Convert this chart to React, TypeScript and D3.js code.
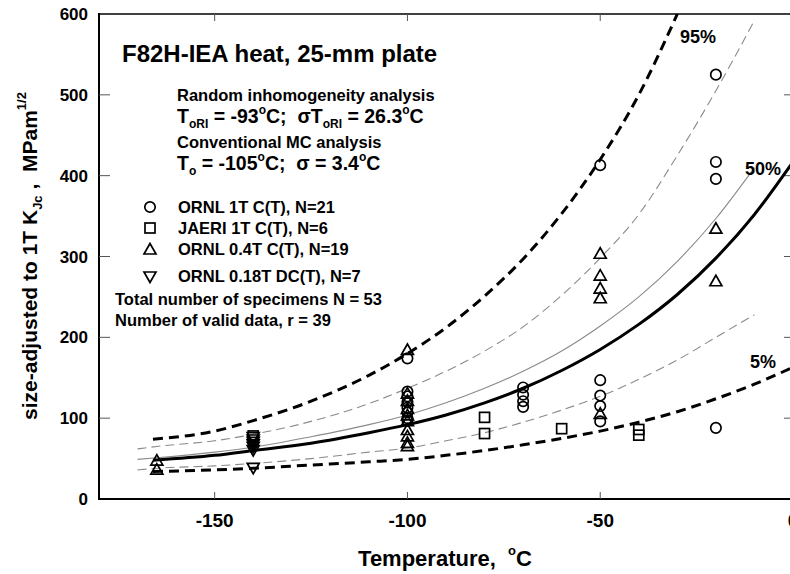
import React from "react";
import * as d3 from "d3";

// ORNL 1T C(T), N=21  (circles)
const ornl1T = [
  { t: -100, k: 174 }, { t: -100, k: 133 }, { t: -100, k: 127 }, { t: -100, k: 120 },
  { t: -100, k: 113 }, { t: -100, k: 107 }, { t: -100, k: 100 }, { t: -100, k: 97 },
  { t: -70, k: 138 }, { t: -70, k: 129 }, { t: -70, k: 121 }, { t: -70, k: 114 },
  { t: -50, k: 413 }, { t: -50, k: 147 }, { t: -50, k: 128 }, { t: -50, k: 115 }, { t: -50, k: 96 },
  { t: -20, k: 525 }, { t: -20, k: 417 }, { t: -20, k: 396 }, { t: -20, k: 88 },
];
// JAERI 1T C(T), N=6 (squares)
const jaeri1T = [
  { t: -140, k: 78 }, { t: -80, k: 101 }, { t: -80, k: 81 },
  { t: -60, k: 87 }, { t: -40, k: 86 }, { t: -40, k: 79 },
];
// ORNL 0.4T C(T), N=19 (triangles)
const ornl04T = [
  { t: -165, k: 48 }, { t: -165, k: 37 },
  { t: -100, k: 185 }, { t: -100, k: 131 }, { t: -100, k: 122 }, { t: -100, k: 112 },
  { t: -100, k: 104 }, { t: -100, k: 97 }, { t: -100, k: 86 }, { t: -100, k: 78 },
  { t: -100, k: 70 }, { t: -100, k: 66 },
  { t: -50, k: 304 }, { t: -50, k: 277 }, { t: -50, k: 261 }, { t: -50, k: 249 }, { t: -50, k: 106 },
  { t: -20, k: 335 }, { t: -20, k: 270 },
];
// ORNL 0.18T DC(T), N=7 (inverted triangles)
const ornl018T = [
  { t: -140, k: 76 }, { t: -140, k: 73 }, { t: -140, k: 70 }, { t: -140, k: 67 },
  { t: -140, k: 64 }, { t: -140, k: 60 }, { t: -140, k: 38 },
];

// random inhomogeneity curves (bold)
const riTemps = [-166, -150, -140, -125, -110, -100, -90, -80, -70, -60, -50, -40, -30, -20, -10, 0];
const ri50 = [48, 54, 60, 69, 82, 92, 104, 119, 137, 159, 185, 216, 253, 298, 352, 417];
const ri5 = [34, 36, 38, 42, 46, 49, 54, 60, 67, 75, 84, 95, 108, 124, 142, 163];
const ri95 = [74, 84, 97, 121, 153, 180, 212, 251, 297, 353, 420, 500, 600];

// conventional MC curves (thin grey)
const mcTemps = [-170, -165, -150, -140, -125, -110, -100, -90, -80, -70, -60, -50, -40, -30, -20, -10];
const mc50 = [49, 51, 58, 64, 77, 92, 104, 119, 137, 158, 183, 214, 250, 294, 347, 410];
const mc5 = [36, 38, 41, 44, 50, 58, 63, 72, 82, 95, 110, 127, 148, 172, 200, 228];
const mc95 = [62, 65, 72, 80, 96, 118, 137, 158, 183, 213, 252, 298, 352, 425, 505, 592];

const xTicks = [-150, -100, -50, 0];
const yTicks = [0, 100, 200, 300, 400, 500, 600];

const W = 790;
const H = 574;
const FONT = "'Liberation Sans', Arial, Helvetica, sans-serif";

export default function App() {
  const x = d3.scaleLinear().domain([-180, 0]).range([99, 793]);
  const y = d3.scaleLinear().domain([0, 600]).range([499, 14]);

  const line = (temps: number[], vals: number[]) =>
    d3
      .line<number>()
      .x((_, i) => x(temps[i]))
      .y((v) => y(v))
      .curve(d3.curveMonotoneX)(vals) || "";

  const circle = (d: { t: number; k: number }, i: number) => (
    <circle key={"c" + i} cx={x(d.t)} cy={y(d.k)} r={5.2} />
  );
  const square = (d: { t: number; k: number }, i: number) => (
    <rect key={"s" + i} x={x(d.t) - 5} y={y(d.k) - 5} width={10} height={10} />
  );
  // up / down triangle marker
  const tri = (cx: number, cy: number, up: boolean, key: string) => {
    const h = 10;
    const w = 12;
    const s = up ? 1 : -1;
    const p = [
      [cx, cy - (s * h) / 2 - s * 0.5],
      [cx - w / 2, cy + (s * h) / 2],
      [cx + w / 2, cy + (s * h) / 2],
    ];
    return <polygon key={key} points={p.map((q) => q.join(",")).join(" ")} />;
  };

  return (
    <svg
      width={W}
      height={H}
      style={{ position: "absolute", left: 0, top: 0, background: "#fff" }}
      fontFamily={FONT}
      fontWeight="bold"
    >
      <defs>
        <clipPath id="plot">
          <rect x={99} y={14} width={700} height={485} />
        </clipPath>
      </defs>

      {/* frame */}
      <line x1={99} x2={W} y1={14} y2={14} stroke="#000" strokeWidth={1.5} />
      <line x1={99} x2={99} y1={13} y2={500} stroke="#000" strokeWidth={2} />
      <line x1={98} x2={W} y1={499} y2={499} stroke="#000" strokeWidth={2} />

      {/* ticks */}
      {yTicks.slice(1, -1).map((v) => (
        <g key={"yt" + v} stroke="#555" strokeWidth={1}>
          <line x1={99} x2={110} y1={y(v)} y2={y(v)} />
          <line x1={784} x2={W} y1={y(v)} y2={y(v)} />
        </g>
      ))}
      {xTicks.map((v) => (
        <g key={"xt" + v} stroke="#555" strokeWidth={1}>
          <line x1={x(v)} x2={x(v)} y1={499} y2={492} />
          <line x1={x(v)} x2={x(v)} y1={14} y2={21} />
        </g>
      ))}
      {yTicks.map((v) => (
        <text key={"yl" + v} x={88} y={y(v) + 6} fontSize={17} textAnchor="end">
          {v}
        </text>
      ))}
      {xTicks.map((v) => (
        <text key={"xl" + v} x={x(v)} y={527} fontSize={19} textAnchor="middle">
          {v}
        </text>
      ))}

      {/* axis titles */}
      <text x={445} y={566} fontSize={22} textAnchor="middle" style={{ whiteSpace: "pre" }}>
        {"Temperature,  "}
        <tspan fontSize={13} dy={-11}>o</tspan>
        <tspan dy={11}>C</tspan>
      </text>
      <text
        transform="translate(37,256) rotate(-90)"
        fontSize={21}
        textAnchor="middle"
        style={{ whiteSpace: "pre" }}
      >
        {"size-adjusted to 1T K"}
        <tspan fontSize={13} dy={5}>Jc</tspan>
        <tspan dy={-5}>{" ,  MPam"}</tspan>
        <tspan fontSize={13} dy={-11}>1/2</tspan>
      </text>

      {/* curves */}
      <g clipPath="url(#plot)" fill="none">
        <path d={line(mcTemps, mc50)} stroke="#8a8a8a" strokeWidth={1.1} />
        <path d={line(mcTemps, mc5)} stroke="#8a8a8a" strokeWidth={1.1} strokeDasharray="9 5" />
        <path d={line(mcTemps, mc95)} stroke="#8a8a8a" strokeWidth={1.1} strokeDasharray="9 5" />
        <path d={line(riTemps, ri50)} stroke="#000" strokeWidth={3} />
        <path d={line(riTemps, ri5)} stroke="#000" strokeWidth={3} strokeDasharray="10 6" />
        <path
          d={line(riTemps.slice(0, ri95.length), ri95)}
          stroke="#000"
          strokeWidth={3}
          strokeDasharray="10 6"
        />
      </g>

      {/* data */}
      <g fill="none" stroke="#000" strokeWidth={1.7}>
        {ornl1T.map(circle)}
        {jaeri1T.map(square)}
        {ornl04T.map((d, i) => tri(x(d.t), y(d.k), true, "t" + i))}
        {ornl018T.map((d, i) => tri(x(d.t), y(d.k), false, "v" + i))}
      </g>

      {/* curve labels */}
      <text x={680} y={43} fontSize={18}>95%</text>
      <text x={745} y={175} fontSize={18}>50%</text>
      <text x={750} y={368} fontSize={18}>5%</text>

      {/* annotations */}
      <text x={122} y={62} fontSize={24}>F82H-IEA heat, 25-mm plate</text>
      <text x={177} y={101} fontSize={16.5}>Random inhomogeneity analysis</text>
      <text x={177} y={123} fontSize={19.5} style={{ whiteSpace: "pre" }}>
        {"T"}
        <tspan fontSize={12} dy={5}>oRI</tspan>
        <tspan dy={-5}>{" = -93"}</tspan>
        <tspan fontSize={12} dy={-9}>o</tspan>
        <tspan dy={9}>{"C;  σT"}</tspan>
        <tspan fontSize={12} dy={5}>oRI</tspan>
        <tspan dy={-5}>{" = 26.3"}</tspan>
        <tspan fontSize={12} dy={-9}>o</tspan>
        <tspan dy={9}>C</tspan>
      </text>
      <text x={177} y={148} fontSize={16.5}>Conventional MC analysis</text>
      <text x={177} y={170} fontSize={19.5} style={{ whiteSpace: "pre" }}>
        {"T"}
        <tspan fontSize={12} dy={5}>o</tspan>
        <tspan dy={-5}>{" = -105"}</tspan>
        <tspan fontSize={12} dy={-9}>o</tspan>
        <tspan dy={9}>{"C;  σ = 3.4"}</tspan>
        <tspan fontSize={12} dy={-9}>o</tspan>
        <tspan dy={9}>C</tspan>
      </text>

      {/* legend */}
      <g fill="none" stroke="#000" strokeWidth={1.7}>
        <circle cx={150} cy={207} r={5.2} />
        <rect x={145} y={223} width={10} height={10} />
        {tri(150, 249, true, "lt")}
        {tri(150, 277, false, "lv")}
      </g>
      <g fontSize={16.5} style={{ whiteSpace: "pre" }}>
        <text x={178} y={213}>ORNL 1T C(T), N=21</text>
        <text x={178} y={234}>JAERI 1T C(T),  N=6</text>
        <text x={178} y={255}>ORNL 0.4T C(T), N=19</text>
        <text x={178} y={282}>ORNL 0.18T DC(T), N=7</text>
        <text x={115} y={305}>Total number of specimens N = 53</text>
        <text x={115} y={326}>Number of valid data, r = 39</text>
      </g>
    </svg>
  );
}
